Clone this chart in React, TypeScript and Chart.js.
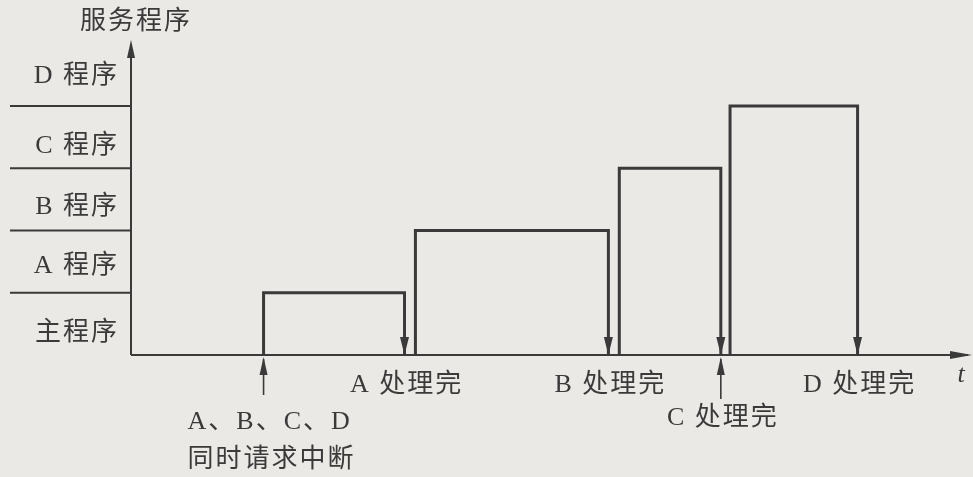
import React, { useEffect, useRef } from "react";
import { Chart, registerables } from "chart.js";

Chart.register(...registerables);

// ---- data (time units along t, level = program priority band) ----
const programNames = ["A 程序", "B 程序", "C 程序", "D 程序"];
const mainName = "主程序";
const yTitle = "服务程序";
const xTitle = "t";
const levels = [1, 2, 3, 4];
const startT = [15.8, 33.9, 58.2, 71.4];
const endT = [32.6, 56.9, 70.3, 86.6];
const doneLabels = ["A 处理完", "B 处理完", "C 处理完", "D 处理完"];
const doneRow = [0, 0, 1, 0];
const interruptT = 15.8;
const interruptLabel = ["A、B、C、D", "同时请求中断"];
const bandLabelY = [1.43, 2.38, 3.36, 4.48];
const mainLabelY = 0.35;

const INK = "#3a3a3a";
const BG = "#ebe9e5";
const FONT = '26px "Liberation Serif", "Noto Sans CJK SC"';

function arrowHead(ctx: CanvasRenderingContext2D, x: number, y: number, dir: "up" | "down" | "right", len = 16, half = 4) {
  ctx.beginPath();
  if (dir === "up") {
    ctx.moveTo(x, y);
    ctx.lineTo(x - half, y + len);
    ctx.lineTo(x + half, y + len);
  } else if (dir === "down") {
    ctx.moveTo(x, y);
    ctx.lineTo(x - half, y - len);
    ctx.lineTo(x + half, y - len);
  } else {
    ctx.moveTo(x, y);
    ctx.lineTo(x - len, y - half);
    ctx.lineTo(x - len, y + half);
  }
  ctx.closePath();
  ctx.fill();
}

const diagramPlugin = {
  id: "diagram",
  beforeDraw(chart: any) {
    const ctx = chart.ctx as CanvasRenderingContext2D;
    ctx.save();
    ctx.fillStyle = BG;
    ctx.fillRect(0, 0, chart.width, chart.height);
    ctx.restore();
  },
  afterDatasetsDraw(chart: any) {
    const ctx = chart.ctx as CanvasRenderingContext2D;
    const xs = chart.scales.x;
    const ys = chart.scales.y;
    const x0 = xs.getPixelForValue(0);
    const y0 = ys.getPixelForValue(0);
    ctx.save();
    ctx.strokeStyle = INK;
    ctx.fillStyle = INK;
    ctx.lineWidth = 2;

    // axes
    ctx.beginPath();
    ctx.moveTo(x0, y0);
    ctx.lineTo(x0, chart.chartArea.top + 4);
    ctx.moveTo(x0, y0);
    ctx.lineTo(chart.chartArea.right - 2, y0);
    ctx.stroke();
    arrowHead(ctx, x0, chart.chartArea.top, "up", 18, 4);
    arrowHead(ctx, chart.chartArea.right + 2, y0, "right", 22, 4);

    // band lines on the left
    ctx.beginPath();
    levels.forEach((l) => {
      const y = ys.getPixelForValue(l);
      ctx.moveTo(10, y);
      ctx.lineTo(x0, y);
    });
    ctx.stroke();

    // down arrows at end of each service
    endT.forEach((t) => {
      arrowHead(ctx, xs.getPixelForValue(t), y0, "down", 18, 4.5);
    });

    // up arrows: interrupt, and C done
    const upArrow = (t: number, len: number) => {
      const x = xs.getPixelForValue(t);
      ctx.beginPath();
      ctx.moveTo(x, y0 + 4);
      ctx.lineTo(x, y0 + len);
      ctx.lineWidth = 1.6;
      ctx.stroke();
      arrowHead(ctx, x, y0 + 2, "up", 18, 4);
    };
    upArrow(interruptT, 40);
    upArrow(endT[2], 44);

    // texts
    ctx.font = FONT;
    (ctx as any).letterSpacing = "2px";
    ctx.textBaseline = "middle";
    ctx.textAlign = "right";
    programNames.forEach((name, i) => {
      ctx.fillText(name, x0 - 12, ys.getPixelForValue(bandLabelY[i]));
    });
    ctx.fillText(mainName, x0 - 12, ys.getPixelForValue(mainLabelY));

    ctx.textAlign = "center";
    ctx.fillText(yTitle, x0 + 5, 22);

    doneLabels.forEach((lab, i) => {
      const x = xs.getPixelForValue(endT[i]);
      const y = y0 + (doneRow[i] === 0 ? 30 : 63);
      ctx.fillText(lab, x + 2, y);
    });

    ctx.textAlign = "left";
    const ix = xs.getPixelForValue(interruptT);
    ctx.fillText(interruptLabel[0], ix - 76, y0 + 67);
    ctx.fillText(interruptLabel[1], ix - 76, y0 + 105);

    ctx.font = 'italic 26px "Liberation Serif"';
    ctx.textAlign = "center";
    ctx.fillText(xTitle, chart.chartArea.right - 8, y0 + 20);
    ctx.restore();
  },
};

export default function App() {
  const ref = useRef<HTMLCanvasElement | null>(null);
  useEffect(() => {
    if (!ref.current) return;
    const datasets = levels.map((l, i) => ({
      label: programNames[i],
      data: [
        { x: startT[i], y: 0 },
        { x: startT[i], y: l },
        { x: endT[i], y: l },
        { x: endT[i], y: 0 },
      ],
      borderColor: INK,
      borderWidth: 3,
      pointRadius: 0,
      fill: false,
      tension: 0,
      borderJoinStyle: "miter" as const,
    }));
    const chart = new Chart(ref.current, {
      type: "line",
      data: { datasets },
      options: {
        animation: false,
        responsive: false,
        maintainAspectRatio: false,
        layout: { padding: { left: 131, right: 3, top: 40, bottom: 122 } },
        plugins: { legend: { display: false }, tooltip: { enabled: false } },
        scales: {
          x: { type: "linear", min: 0, max: 100, display: false },
          y: { type: "linear", min: 0, max: 5.06, display: false },
        },
      },
      plugins: [diagramPlugin],
    });
    return () => chart.destroy();
  }, []);
  return (
    <div style={{ position: "fixed", left: 0, top: 0, width: 973, height: 477, background: BG }}>
      <canvas ref={ref} width={973} height={477} style={{ width: 973, height: 477, display: "block" }} />
    </div>
  );
}
